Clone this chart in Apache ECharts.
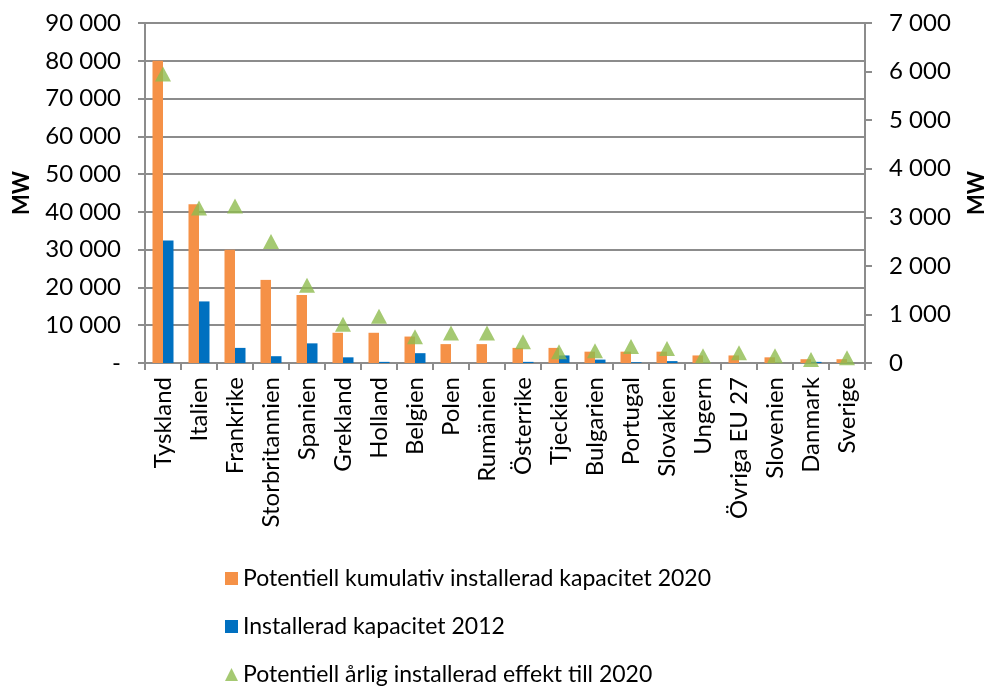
<!DOCTYPE html>
<html>
<head>
<meta charset="utf-8">
<script src="https://cdn.jsdelivr.net/npm/echarts@6/dist/echarts.min.js"></script>
<style>
  html, body { margin: 0; padding: 0; background: #fff; }
  #chart { width: 984px; height: 688px; }
</style>
</head>
<body>
<div id="chart"></div>
<script>
// Solar PV capacity per EU country (MW)
const countries = ['Tyskland', 'Italien', 'Frankrike', 'Storbritannien', 'Spanien', 'Grekland',
  'Holland', 'Belgien', 'Polen', 'Rumänien', 'Österrike', 'Tjeckien', 'Bulgarien', 'Portugal',
  'Slovakien', 'Ungern', 'Övriga EU 27', 'Slovenien', 'Danmark', 'Sverige'];

// Potential cumulative installed capacity 2020 (left axis)
const potentialCumulative2020 = [80000, 42000, 30000, 22000, 18000, 8000, 8000, 7000, 5000, 5000,
  4000, 4000, 3000, 3000, 3000, 2000, 2000, 1500, 1000, 1000];

// Installed capacity 2012 (left axis)
const installed2012 = [32400, 16300, 4000, 1800, 5200, 1500, 300, 2600, 0, 0,
  300, 2000, 900, 200, 500, 0, 0, 0, 300, 0];

// Potential annual installation until 2020 (right axis)
const potentialAnnual = [5950, 3190, 3230, 2500, 1600, 800, 960, 540, 620, 620,
  440, 230, 250, 340, 300, 150, 210, 150, 70, 110];

const seriesNames = [
  'Potentiell kumulativ installerad kapacitet 2020',
  'Installerad kapacitet 2012',
  'Potentiell årlig installerad effekt till 2020'
];
const legendIcons = ['rect', 'rect', 'triangle'];

const FONT = 'Lato';
const GRID_GREY = '#8c8c8c';

function spaced(v) {
  return String(v).replace(/\B(?=(\d{3})+(?!\d))/g, ' ');
}

// one legend block per row, stacked under the plot
const legends = seriesNames.map((name, i) => ({
  orient: 'vertical',
  left: 225,
  top: 567 + i * 48,
  padding: 0,
  itemWidth: 13,
  itemHeight: 13,
  itemGap: 0,
  textStyle: { fontFamily: FONT, fontSize: 23, color: '#000' },
  data: [{ name: name, icon: legendIcons[i] }]
}));

const chart = echarts.init(document.getElementById('chart'), null, { renderer: 'canvas' });

chart.setOption({
  animation: false,
  textStyle: { fontFamily: FONT },
  grid: {
    left: 145, right: 119, top: 23, bottom: 325,
    containLabel: false,
    outerBoundsMode: 'none'
  },
  legend: legends,
  xAxis: {
    type: 'category',
    data: countries,
    axisLine: { lineStyle: { color: GRID_GREY, width: 2 } },
    axisTick: { show: true, length: 7, lineStyle: { color: GRID_GREY, width: 2 } },
    axisLabel: {
      rotate: 90,
      margin: 14,
      interval: 0,
      fontFamily: FONT,
      fontSize: 24,
      color: '#000'
    }
  },
  yAxis: [
    {
      type: 'value',
      min: 0,
      max: 90000,
      interval: 10000,
      name: 'MW',
      nameLocation: 'middle',
      nameRotate: 90,
      nameGap: 112,
      nameTextStyle: { fontFamily: FONT, fontSize: 22, fontWeight: 'bold', color: '#000' },
      axisLine: { show: true, lineStyle: { color: GRID_GREY, width: 2 } },
      axisTick: { show: true, length: 7, lineStyle: { color: GRID_GREY, width: 2 } },
      axisLabel: {
        margin: 24,
        fontFamily: FONT,
        fontSize: 24,
        color: '#000',
        formatter: v => (v === 0 ? '-' : spaced(v))
      },
      splitLine: { show: true, lineStyle: { color: GRID_GREY, width: 2 } }
    },
    {
      type: 'value',
      position: 'right',
      min: 0,
      max: 7000,
      interval: 1000,
      name: 'MW',
      nameLocation: 'middle',
      nameRotate: 90,
      nameGap: 101,
      nameTextStyle: { fontFamily: FONT, fontSize: 22, fontWeight: 'bold', color: '#000' },
      axisLine: { show: true, lineStyle: { color: GRID_GREY, width: 2 } },
      axisTick: { show: true, length: 7, lineStyle: { color: GRID_GREY, width: 2 } },
      axisLabel: {
        margin: 24,
        fontFamily: FONT,
        fontSize: 24,
        color: '#000',
        formatter: v => spaced(v)
      },
      splitLine: { show: false }
    }
  ],
  series: [
    {
      name: seriesNames[0],
      type: 'bar',
      yAxisIndex: 0,
      data: potentialCumulative2020,
      barWidth: 10.5,
      barGap: '0%',
      itemStyle: { color: '#F59147' }
    },
    {
      name: seriesNames[1],
      type: 'bar',
      yAxisIndex: 0,
      data: installed2012,
      barWidth: 10.5,
      barGap: '0%',
      itemStyle: { color: '#0070C0' }
    },
    {
      name: seriesNames[2],
      type: 'scatter',
      yAxisIndex: 1,
      data: potentialAnnual,
      symbol: 'triangle',
      symbolSize: [16, 15],
      itemStyle: { color: '#8FBC4F' },
      z: 5
    }
  ]
});
</script>
</body>
</html>
